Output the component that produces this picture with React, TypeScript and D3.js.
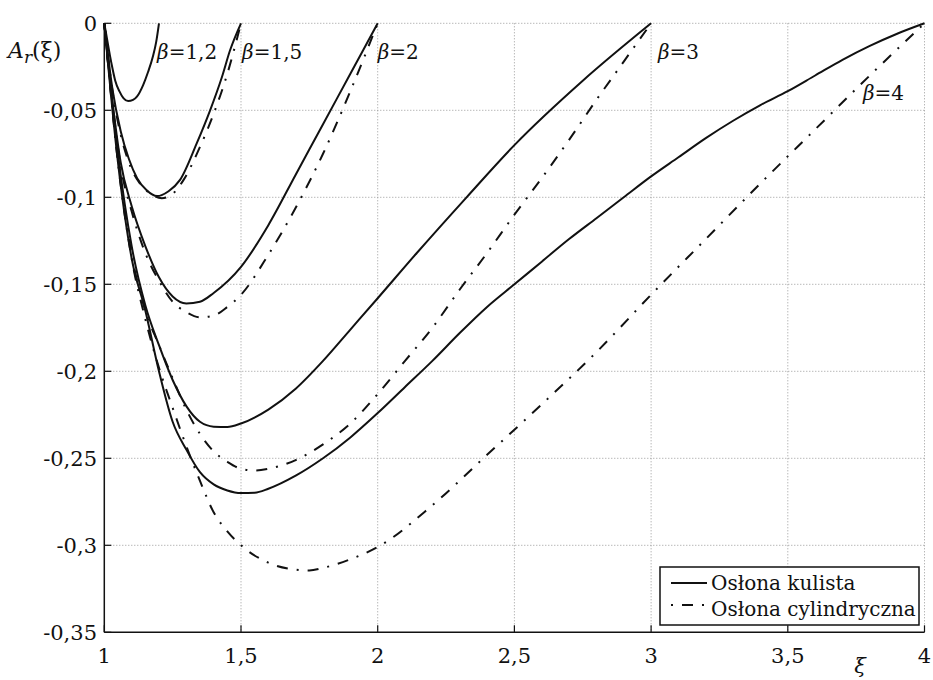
import React from "react";
import * as d3 from "d3";

const xTicks = [1, 1.5, 2, 2.5, 3, 3.5, 4];
const xTickLabels = ["1", "1,5", "2", "2,5", "3", "3,5", "4"];
const yTicks = [0, -0.05, -0.1, -0.15, -0.2, -0.25, -0.3, -0.35];
const yTickLabels = ["0", "-0,05", "-0,1", "-0,15", "-0,2", "-0,25", "-0,3", "-0,35"];

// Osłona kulista (solid)
const kulista12: [number, number][] = [[1,0],[1.01,-0.009],[1.02,-0.018],[1.03,-0.026],[1.04,-0.033],[1.055,-0.039],[1.07,-0.043],[1.087,-0.0447],[1.105,-0.0440],[1.12,-0.042],[1.142,-0.0355],[1.16,-0.028],[1.178,-0.019],[1.19,-0.0105],[1.2,0]];
const kulista15: [number, number][] = [[1,0],[1.03,-0.038],[1.06,-0.062],[1.09,-0.078],[1.12,-0.089],[1.155,-0.096],[1.193,-0.0993],[1.235,-0.0965],[1.277,-0.090],[1.338,-0.069],[1.387,-0.050],[1.43,-0.031],[1.46,-0.0155],[1.5,0]];
const kulista2: [number, number][] = [[1,0],[1.03,-0.045],[1.06,-0.080],[1.1,-0.105],[1.15,-0.128],[1.2,-0.146],[1.25,-0.157],[1.3,-0.161],[1.35,-0.160],[1.4,-0.155],[1.5,-0.140],[1.6,-0.116],[1.7,-0.087],[1.8,-0.058],[1.9,-0.029],[2.0,0]];
const kulista3: [number, number][] = [[1,0],[1.05,-0.075],[1.1,-0.128],[1.15,-0.162],[1.2,-0.185],[1.25,-0.205],[1.3,-0.220],[1.35,-0.229],[1.4,-0.2318],[1.45,-0.232],[1.5,-0.230],[1.6,-0.222],[1.7,-0.210],[1.8,-0.194],[1.9,-0.176],[2.0,-0.158],[2.143,-0.132],[2.325,-0.100],[2.5,-0.070],[2.75,-0.033],[3,0]];
const kulista4: [number, number][] = [[1,0],[1.05,-0.080],[1.1,-0.135],[1.15,-0.165],[1.2,-0.200],[1.25,-0.229],[1.3,-0.245],[1.35,-0.258],[1.4,-0.265],[1.45,-0.2685],[1.5,-0.2700],[1.55,-0.2698],[1.6,-0.2675],[1.7,-0.260],[1.8,-0.250],[1.9,-0.238],[2.0,-0.224],[2.1,-0.209],[2.2,-0.194],[2.3,-0.178],[2.4,-0.163],[2.5,-0.150],[2.6,-0.137],[2.7,-0.124],[2.8,-0.112],[2.9,-0.100],[3.0,-0.088],[3.1,-0.077],[3.2,-0.066],[3.3,-0.056],[3.4,-0.047],[3.5,-0.039],[3.6,-0.030],[3.7,-0.021],[3.8,-0.013],[3.9,-0.006],[4,0]];

// Osłona cylindryczna (dash-dot)
const cyl15: [number, number][] = [[1,0],[1.03,-0.039],[1.06,-0.064],[1.09,-0.080],[1.13,-0.092],[1.17,-0.098],[1.21,-0.1005],[1.25,-0.098],[1.29,-0.090],[1.35,-0.071],[1.40,-0.052],[1.45,-0.029],[1.5,0]];
const cyl2: [number, number][] = [[1,0],[1.03,-0.046],[1.06,-0.082],[1.1,-0.108],[1.15,-0.132],[1.2,-0.148],[1.25,-0.160],[1.3,-0.166],[1.35,-0.169],[1.4,-0.168],[1.45,-0.163],[1.5,-0.156],[1.6,-0.133],[1.7,-0.106],[1.8,-0.075],[1.9,-0.039],[2.0,0]];
const cyl3: [number, number][] = [[1,0],[1.05,-0.078],[1.1,-0.133],[1.15,-0.165],[1.2,-0.185],[1.25,-0.204],[1.3,-0.222],[1.35,-0.236],[1.4,-0.246],[1.45,-0.252],[1.5,-0.256],[1.55,-0.257],[1.6,-0.256],[1.7,-0.251],[1.8,-0.242],[1.9,-0.230],[2.0,-0.213],[2.1,-0.194],[2.2,-0.175],[2.3,-0.153],[2.4,-0.132],[2.5,-0.110],[2.6,-0.089],[2.7,-0.067],[2.8,-0.044],[2.9,-0.022],[3,0]];
const cyl4: [number, number][] = [[1,0],[1.05,-0.080],[1.1,-0.135],[1.15,-0.170],[1.2,-0.198],[1.25,-0.221],[1.3,-0.243],[1.35,-0.263],[1.4,-0.281],[1.45,-0.292],[1.5,-0.300],[1.6,-0.310],[1.7,-0.314],[1.75,-0.3145],[1.8,-0.313],[1.9,-0.308],[2.0,-0.301],[2.2,-0.277],[2.4,-0.248],[2.6,-0.219],[2.8,-0.189],[3.0,-0.156],[3.2,-0.124],[3.4,-0.092],[3.6,-0.061],[3.8,-0.030],[4,0]];

const solidSeries = [kulista12, kulista15, kulista2, kulista3, kulista4];
const dashSeries = [cyl15, cyl2, cyl3, cyl4];

const betaLabels = ["1,2", "1,5", "2", "3", "4"];
const betaPos: [number, number][] = [[1.193, -0.0203], [1.504, -0.0203], [2.0, -0.0203], [3.025, -0.0203], [3.775, -0.0443]];

const legendItems = ["Osłona kulista", "Osłona cylindryczna"];

const FONT = "'DejaVu Serif', 'Liberation Serif', 'Times New Roman', serif";
const FS = 21;
const DASH = "11,9,2,9";

export default function App() {
  const W = 933, H = 680;
  const x = d3.scaleLinear().domain([1, 4]).range([104.3, 924.5]);
  const y = d3.scaleLinear().domain([-0.35, 0]).range([632.3, 23.3]);
  const line = d3.line<[number, number]>().x(d => x(d[0])).y(d => y(d[1])).curve(d3.curveMonotoneX);
  const x0 = x(1), y0 = y(-0.35);
  const ts: React.CSSProperties = { fontFamily: FONT };

  return (
    <svg width={W} height={H} style={{ position: "absolute", left: 0, top: 0, background: "#fff", fontFamily: FONT }}>
      {/* grid */}
      {xTicks.slice(1).map((t, i) => (
        <line key={"gx" + i} x1={x(t)} x2={x(t)} y1={y(0)} y2={y0} stroke="#999" strokeWidth={1} strokeDasharray="1,2" />
      ))}
      {yTicks.slice(0, -1).map((t, i) => (
        <line key={"gy" + i} x1={x0} x2={x(4)} y1={y(t)} y2={y(t)} stroke="#999" strokeWidth={1} strokeDasharray="1,2" />
      ))}
      {/* axes */}
      <line x1={x0} x2={x0} y1={y(0)} y2={y0} stroke="#111" strokeWidth={1.5} />
      <line x1={x0} x2={x(4)} y1={y0} y2={y0} stroke="#111" strokeWidth={1.5} />
      {yTicks.map((t, i) => (
        <line key={"ty" + i} x1={x0} x2={x0 + 7} y1={y(t)} y2={y(t)} stroke="#111" strokeWidth={1.2} />
      ))}
      {xTicks.map((t, i) => (
        <line key={"tx" + i} x1={x(t)} x2={x(t)} y1={y0} y2={y0 - 7} stroke="#111" strokeWidth={1.2} />
      ))}
      {yTicks.map((t, i) => (
        <text key={"ly" + i} style={ts} x={97} y={y(t)} dy="0.35em" textAnchor="end" fontSize={FS} fill="#111">{yTickLabels[i]}</text>
      ))}
      {xTicks.map((t, i) => (
        <text key={"lx" + i} style={ts} x={x(t)} y={663} textAnchor="middle" fontSize={FS} fill="#111">{xTickLabels[i]}</text>
      ))}
      {/* curves */}
      {dashSeries.map((s, i) => (
        <path key={"d" + i} d={line(s) || ""} fill="none" stroke="#111" strokeWidth={2} strokeDasharray={DASH} />
      ))}
      {solidSeries.map((s, i) => (
        <path key={"s" + i} d={line(s) || ""} fill="none" stroke="#111" strokeWidth={2} />
      ))}
      {/* beta labels */}
      {betaLabels.map((b, i) => (
        <text key={"b" + i} style={ts} x={x(betaPos[i][0])} y={y(betaPos[i][1])} fontSize={20} fill="#111">
          <tspan fontStyle="italic">β</tspan>={b}
        </text>
      ))}
      {/* axis titles */}
      <text style={ts} x={8} y={58} fontSize={22} fill="#111">
        <tspan fontStyle="italic">A</tspan>
        <tspan fontStyle="italic" fontSize={17} dy={5}>r</tspan>
        <tspan dy={-5}>(ξ)</tspan>
      </text>
      <text style={ts} x={860} y={673} textAnchor="middle" fontSize={FS} fontStyle="italic" fill="#111">ξ</text>
      {/* legend */}
      <rect x={660} y={567} width={259} height={58} fill="#fff" stroke="#111" strokeWidth={1.5} />
      <line x1={671} x2={707} y1={583} y2={583} stroke="#111" strokeWidth={2} />
      <line x1={671} x2={707} y1={605} y2={605} stroke="#111" strokeWidth={2} strokeDasharray="2,9,11,9" />
      {legendItems.map((t, i) => (
        <text key={"lg" + i} style={ts} x={711} y={590 + i * 26} fontSize={20} fill="#111">{t}</text>
      ))}
    </svg>
  );
}
